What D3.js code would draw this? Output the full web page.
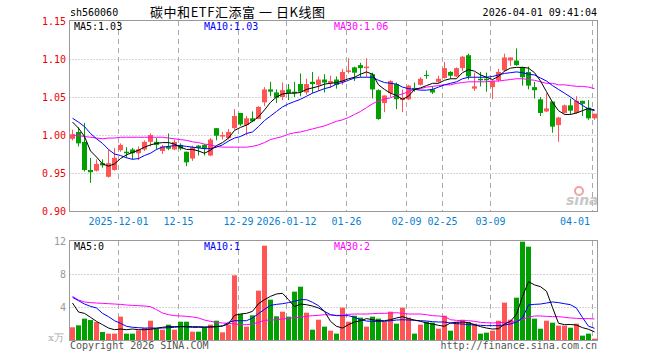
<!DOCTYPE html>
<html>
<head>
<meta charset="utf-8">
<script src="https://cdn.jsdelivr.net/npm/d3@7"></script>
<style>
  body { margin: 0; background: #fff; }
  svg text { font-family: 'DejaVu Sans Mono', monospace; font-size: 10px; }
</style>
</head>
<body>
<script>
// chart data
var dates = [
  '2025-11-19', '2025-11-20', '2025-11-21', '2025-11-24', '2025-11-25', '2025-11-26', '2025-11-27', '2025-11-28',
  '2025-12-01', '2025-12-02', '2025-12-03', '2025-12-04', '2025-12-05', '2025-12-08', '2025-12-09', '2025-12-10',
  '2025-12-11', '2025-12-12', '2025-12-15', '2025-12-16', '2025-12-17', '2025-12-18', '2025-12-19', '2025-12-22',
  '2025-12-23', '2025-12-24', '2025-12-25', '2025-12-26', '2025-12-29', '2025-12-30', '2025-12-31', '2026-01-05',
  '2026-01-06', '2026-01-07', '2026-01-08', '2026-01-09', '2026-01-12', '2026-01-13', '2026-01-14', '2026-01-15',
  '2026-01-16', '2026-01-19', '2026-01-20', '2026-01-21', '2026-01-22', '2026-01-23', '2026-01-26', '2026-01-27',
  '2026-01-28', '2026-01-29', '2026-01-30', '2026-02-02', '2026-02-03', '2026-02-04', '2026-02-05', '2026-02-06',
  '2026-02-09', '2026-02-10', '2026-02-11', '2026-02-12', '2026-02-13', '2026-02-24', '2026-02-25', '2026-02-26',
  '2026-02-27', '2026-03-02', '2026-03-03', '2026-03-04', '2026-03-05', '2026-03-06', '2026-03-09', '2026-03-10',
  '2026-03-11', '2026-03-12', '2026-03-13', '2026-03-16', '2026-03-17', '2026-03-18', '2026-03-19', '2026-03-20',
  '2026-03-23', '2026-03-24', '2026-03-25', '2026-03-26', '2026-03-27', '2026-03-30', '2026-03-31', '2026-04-01'
]

var open = [
  0.995, 1.004, 0.991, 0.954, 0.953, 0.963, 0.945, 0.954, 0.980, 0.978,
  0.981, 0.976, 0.981, 0.991, 0.991, 0.979, 0.985, 0.981, 0.987, 0.978,
  0.969, 0.986, 0.987, 0.973, 1.009, 0.998, 0.996, 1.009, 1.029, 1.013,
  1.022, 1.021, 1.043, 1.060, 1.056, 1.050, 1.060, 1.057, 1.067, 1.056,
  1.070, 1.066, 1.073, 1.068, 1.073, 1.070, 1.083, 1.089, 1.092, 1.088,
  1.080, 1.059, 1.042, 1.055, 1.067, 1.046, 1.047, 1.062, 1.066, 1.079,
  1.060, 1.070, 1.075, 1.083, 1.077, 1.088, 1.105, 1.061, 1.074, 1.074,
  1.063, 1.072, 1.085, 1.098, 1.098, 1.089, 1.083, 1.063, 1.047, 1.031,
  1.044, 1.013, 1.029, 1.039, 1.029, 1.045, 1.036, 1.022
]
var high = [
  1.007, 1.010, 1.016, 0.970, 0.968, 0.968, 0.981, 0.983, 0.989, 0.984,
  0.983, 0.985, 0.993, 1.002, 0.996, 0.987, 1.002, 0.994, 0.989, 0.978,
  0.986, 0.987, 0.988, 0.996, 1.009, 1.004, 1.008, 1.034, 1.029, 1.025,
  1.031, 1.038, 1.063, 1.070, 1.060, 1.069, 1.067, 1.070, 1.081, 1.074,
  1.083, 1.077, 1.080, 1.078, 1.077, 1.087, 1.101, 1.090, 1.095, 1.101,
  1.082, 1.060, 1.052, 1.072, 1.069, 1.060, 1.066, 1.069, 1.076, 1.085,
  1.064, 1.078, 1.096, 1.084, 1.089, 1.104, 1.107, 1.082, 1.083, 1.082,
  1.072, 1.087, 1.107, 1.102, 1.114, 1.090, 1.090, 1.070, 1.050, 1.055,
  1.044, 1.024, 1.040, 1.048, 1.051, 1.045, 1.046, 1.028
]
var low = [
  0.993, 0.985, 0.952, 0.937, 0.952, 0.957, 0.944, 0.953, 0.978, 0.970,
  0.968, 0.967, 0.979, 0.985, 0.981, 0.975, 0.980, 0.980, 0.980, 0.959,
  0.966, 0.973, 0.973, 0.972, 0.993, 0.994, 0.994, 1.007, 1.012, 1.000,
  1.017, 1.021, 1.038, 1.051, 1.042, 1.046, 1.046, 1.050, 1.051, 1.053,
  1.055, 1.058, 1.056, 1.062, 1.061, 1.066, 1.081, 1.071, 1.076, 1.076,
  1.048, 1.020, 1.030, 1.050, 1.034, 1.030, 1.046, 1.057, 1.065, 1.074,
  1.054, 1.068, 1.074, 1.074, 1.076, 1.084, 1.073, 1.058, 1.064, 1.057,
  1.047, 1.070, 1.083, 1.091, 1.091, 1.065, 1.060, 1.048, 1.025, 1.030,
  1.003, 0.991, 1.028, 1.027, 1.028, 1.025, 1.020, 1.020
]
var close = [
  1.001, 0.989, 0.954, 0.951, 0.962, 0.960, 0.963, 0.970, 0.987, 0.976,
  0.976, 0.981, 0.991, 1.000, 0.987, 0.985, 0.982, 0.991, 0.982, 0.964,
  0.984, 0.983, 0.982, 0.994, 0.999, 1.000, 1.004, 1.025, 1.014, 1.022,
  1.018, 1.037, 1.060, 1.057, 1.049, 1.059, 1.055, 1.055, 1.057, 1.067,
  1.067, 1.073, 1.069, 1.071, 1.066, 1.083, 1.085, 1.082, 1.088, 1.090,
  1.060, 1.021, 1.052, 1.071, 1.047, 1.049, 1.065, 1.060, 1.074, 1.078,
  1.056, 1.074, 1.088, 1.078, 1.088, 1.103, 1.077, 1.064, 1.072, 1.072,
  1.071, 1.083, 1.102, 1.102, 1.092, 1.076, 1.065, 1.059, 1.029, 1.035,
  1.011, 1.023, 1.039, 1.032, 1.045, 1.041, 1.022, 1.028
]

// price moving averages as drawn in the picture
var ma5 = [
  1.017, 1.009, 0.998, 0.979, 0.971, 0.962, 0.959, 0.962, 0.969, 0.974,
  0.977, 0.980, 0.984, 0.987, 0.989, 0.990, 0.990, 0.988, 0.984, 0.981,
  0.981, 0.979, 0.976, 0.980, 0.986, 0.990, 0.996, 1.006, 1.010, 1.013,
  1.018, 1.024, 1.033, 1.043, 1.050, 1.054, 1.055, 1.055, 1.056, 1.060,
  1.062, 1.064, 1.067, 1.068, 1.069, 1.071, 1.074, 1.076, 1.080, 1.083,
  1.080, 1.066, 1.060, 1.055, 1.052, 1.047, 1.051, 1.060, 1.062, 1.065,
  1.068, 1.068, 1.072, 1.074, 1.074, 1.082, 1.086, 1.084, 1.079, 1.076,
  1.073, 1.077, 1.084, 1.088, 1.089, 1.089, 1.088, 1.082, 1.071, 1.057,
  1.043, 1.032, 1.027, 1.027, 1.029, 1.032, 1.035, 1.033
]
var ma10 = [
  1.022, 1.017, 1.011, 1.002, 0.995, 0.989, 0.981, 0.975, 0.973, 0.970,
  0.968, 0.969, 0.973, 0.976, 0.981, 0.984, 0.985, 0.986, 0.986, 0.985,
  0.984, 0.983, 0.982, 0.982, 0.984, 0.987, 0.992, 0.996, 0.998, 1.002,
  1.004, 1.011, 1.019, 1.025, 1.031, 1.037, 1.041, 1.044, 1.047, 1.051,
  1.055, 1.058, 1.061, 1.063, 1.067, 1.069, 1.072, 1.075, 1.076, 1.076,
  1.076, 1.072, 1.069, 1.068, 1.067, 1.063, 1.061, 1.060, 1.059, 1.059,
  1.060, 1.063, 1.066, 1.068, 1.070, 1.074, 1.076, 1.076, 1.076, 1.076,
  1.077, 1.079, 1.081, 1.082, 1.083, 1.082, 1.080, 1.079, 1.075, 1.071,
  1.065, 1.060, 1.055, 1.050, 1.044, 1.039, 1.034, 1.032
]
var ma30 = [
  1.000, 0.999, 0.998, 0.997, 0.996, 0.995, 0.996, 0.996, 0.997, 0.997,
  0.997, 0.997, 0.997, 0.997, 0.997, 0.997, 0.996, 0.995, 0.994, 0.993,
  0.991, 0.990, 0.988, 0.987, 0.985, 0.984, 0.984, 0.984, 0.984, 0.984,
  0.985, 0.987, 0.990, 0.994, 0.996, 0.998, 1.001, 1.003, 1.004, 1.006,
  1.008, 1.010, 1.012, 1.015, 1.018, 1.020, 1.023, 1.027, 1.031, 1.036,
  1.041, 1.045, 1.047, 1.049, 1.052, 1.054, 1.057, 1.060, 1.061, 1.063,
  1.064, 1.065, 1.066, 1.066, 1.068, 1.069, 1.070, 1.070, 1.070, 1.070,
  1.071, 1.071, 1.072, 1.073, 1.074, 1.074, 1.073, 1.072, 1.070, 1.068,
  1.068, 1.066, 1.066, 1.065, 1.064, 1.064, 1.063, 1.061
]

// volume (x万) and its moving averages
var volume = [
  1.54, 1.78, 2.59, 2.42, 2.18, 0.97, 0.77, 0.77, 2.83, 0.77,
  0.77, 1.17, 1.45, 2.34, 1.37, 1.25, 1.86, 1.25, 2.22, 2.22,
  1.01, 1.01, 1.54, 1.86, 2.34, 0.93, 1.86, 7.84, 3.15, 1.62,
  2.99, 5.98, 11.43, 4.89, 2.87, 3.43, 2.83, 5.86, 6.46, 3.31,
  1.25, 2.46, 1.62, 1.13, 0.77, 3.92, 2.22, 2.95, 2.71, 1.62,
  2.83, 2.59, 2.18, 3.43, 1.98, 3.92, 2.71, 0.77, 1.86, 2.22,
  2.10, 1.37, 2.95, 1.13, 2.22, 2.46, 2.18, 1.98, 0.77, 0.89,
  1.13, 2.34, 4.53, 2.46, 5.13, 11.92, 11.31, 2.59, 1.37, 2.34,
  2.10, 1.74, 1.74, 1.49, 1.98, 0.53, 0.77, 0.16
]
var volMa5 = [
  4.48, 3.39, 3.23, 2.75, 2.26, 1.86, 1.45, 1.25, 1.33, 1.25,
  1.33, 1.25, 1.25, 1.29, 1.41, 1.54, 1.62, 1.62, 1.62, 1.58,
  1.54, 1.54, 1.54, 1.58, 1.62, 1.70, 1.94, 2.99, 3.15, 3.23,
  3.47, 4.40, 4.89, 5.29, 5.58, 5.66, 4.89, 4.04, 4.36, 4.28,
  4.12, 3.88, 3.47, 2.26, 1.66, 1.45, 1.86, 2.18, 2.34, 2.59,
  2.46, 2.34, 2.34, 2.46, 2.67, 2.83, 2.59, 2.42, 2.26, 2.06,
  1.94, 1.78, 1.66, 2.06, 2.14, 2.18, 2.10, 1.86, 1.62, 1.45,
  1.33, 1.37, 1.93, 2.27, 3.12, 5.28, 7.07, 6.68, 6.46, 5.91,
  3.94, 2.03, 1.86, 1.88, 1.81, 1.50, 1.30, 0.99
]
var volMa10 = [
  5.17, 4.77, 4.36, 4.08, 3.88, 3.23, 2.83, 2.34, 2.02, 1.66,
  1.54, 1.49, 1.45, 1.45, 1.45, 1.45, 1.49, 1.54, 1.62, 1.66,
  1.62, 1.62, 1.58, 1.58, 1.62, 1.70, 2.14, 2.34, 2.34, 2.34,
  2.67, 3.19, 3.72, 4.20, 4.32, 4.40, 4.53, 4.69, 4.89, 4.89,
  4.57, 4.16, 3.47, 3.07, 2.95, 2.95, 2.95, 2.75, 2.46, 2.30,
  2.26, 2.26, 2.26, 2.34, 2.42, 2.46, 2.42, 2.38, 2.34, 2.30,
  2.22, 2.18, 2.18, 2.06, 1.98, 1.94, 1.86, 1.82, 1.78, 1.74,
  1.74, 1.74, 1.82, 1.94, 2.18, 2.67, 4.25, 4.32, 4.36, 4.48,
  4.61, 4.53, 4.40, 4.28, 3.86, 2.72, 1.67, 1.42
]
var volMa30 = [
  5.29, 4.85, 4.61, 4.53, 4.48, 4.44, 4.40, 4.36, 4.32, 4.24,
  4.20, 4.16, 4.12, 4.04, 3.68, 3.27, 3.07, 2.95, 2.91, 2.87,
  2.79, 2.67, 2.42, 2.26, 2.14, 2.06, 2.02, 1.94, 1.86, 1.86,
  1.94, 2.14, 2.38, 2.42, 2.46, 2.55, 2.63, 2.71, 2.75, 2.87,
  2.95, 2.99, 3.07, 3.03, 2.99, 2.99, 3.11, 3.15, 3.15, 3.15,
  3.19, 3.23, 3.23, 3.27, 3.31, 3.23, 3.15, 3.15, 3.15, 3.07,
  2.95, 2.91, 2.83, 2.46, 2.38, 2.34, 2.34, 2.26, 2.14, 2.10,
  2.06, 2.10, 2.14, 2.18, 2.26, 2.50, 2.75, 2.91, 2.91, 2.87,
  2.83, 2.83, 2.75, 2.67, 2.63, 2.59, 2.59, 2.55
]

var tickDates = ['2025-12-01', '2025-12-15', '2025-12-29', '2026-01-12', '2026-01-26', '2026-02-09', '2026-02-25', '2026-03-09', '2026-04-01']
var tickLabels = ['2025-12-01', '12-15', '12-29', '2026-01-12', '01-26', '02-09', '02-25', '03-09', '04-01']
var priceTicks = [0.90, 0.95, 1.00, 1.05, 1.10, 1.15]
var volTicks = [4, 8, 12]

// layout
var w = 660
var h = 360
var left = 69.5
var right = 597.5
var red = '#ff5555'
var green = '#00a000'
var gridColor = '#aaaaaa'

var svg = d3.select('body')
  .append('svg')
  .attr('width', w)
  .attr('height', h)

var xScale = d3.scaleBand()
  .domain(dates)
  .range([left, right])
  .paddingInner(1 / 6)
  .paddingOuter(1 / 12)

var yScale = d3.scaleLinear().domain([0.90, 1.15]).range([211, 21])
var vScale = d3.scaleLinear().domain([0, 12]).range([340, 241])

// centre of a candle, snapped to a pixel column
var cx = function (d) { return Math.floor(xScale(d) + xScale.bandwidth() / 2) + 0.5 }
var isUp = function (i) { return close[i] >= open[i] }

// header
svg.append('text').attr('x', 70).attr('y', 16).attr('fill', '#000').text('sh560060')
svg.append('text').attr('x', 150).attr('y', 17)
  .style('font-family', "'Noto Sans CJK SC', sans-serif")
  .style('font-size', '13px')
  .attr('textLength', 175)
  .attr('lengthAdjust', 'spacing')
  .attr('fill', '#000')
  .text('碳中和ETF汇添富 一 日K线图')
svg.append('text').attr('x', 597).attr('y', 16).attr('text-anchor', 'end').attr('fill', '#000')
  .text('2026-04-01 09:41:04')

// panels: dotted horizontal grid
svg.selectAll('line.pgrid')
  .data(priceTicks.filter(function (t) { return t > 0.9 && t < 1.15 }))
  .enter().append('line')
  .attr('class', 'pgrid')
  .attr('x1', left).attr('x2', right)
  .attr('y1', function (d) { return Math.round(yScale(d)) + 0.5 })
  .attr('y2', function (d) { return Math.round(yScale(d)) + 0.5 })
  .attr('stroke', gridColor).attr('stroke-dasharray', '1,2')

svg.selectAll('line.vgrid')
  .data(volTicks.filter(function (t) { return t < 12 }))
  .enter().append('line')
  .attr('class', 'vgrid')
  .attr('x1', left).attr('x2', right)
  .attr('y1', function (d) { return Math.round(vScale(d)) + 0.5 })
  .attr('y2', function (d) { return Math.round(vScale(d)) + 0.5 })
  .attr('stroke', gridColor).attr('stroke-dasharray', '1,2')

// vertical dashed lines at date ticks (both panels)
var tickX = function (d) { return Math.round(xScale(d)) + 0.5 }
;[[21, 211], [241, 340]].forEach(function (r) {
  svg.selectAll(null)
    .data(tickDates)
    .enter().append('line')
    .attr('x1', tickX).attr('x2', tickX)
    .attr('y1', r[0]).attr('y2', r[1])
    .attr('stroke', gridColor).attr('stroke-dasharray', '5,4')
})

// sina watermark
var logo = svg.append('g').attr('transform', 'translate(566,205)')
logo.append('circle').attr('cx', 13).attr('cy', -14).attr('r', 4)
  .attr('fill', 'none').attr('stroke', '#f4a0a0').attr('stroke-width', 2)
logo.append('text').attr('x', 0).attr('y', 0)
  .style('font-family', "'DejaVu Sans', sans-serif")
  .style('font-size', '14px').style('font-weight', 'bold').style('font-style', 'italic')
  .attr('fill', '#c8c8c8').text('sina')

// candles
var idx = d3.range(dates.length)
svg.selectAll('line.wick')
  .data(idx)
  .enter().append('line')
  .attr('class', 'wick')
  .attr('x1', function (i) { return cx(dates[i]) })
  .attr('x2', function (i) { return cx(dates[i]) })
  .attr('y1', function (i) { return yScale(high[i]) })
  .attr('y2', function (i) { return yScale(low[i]) })
  .attr('stroke', function (i) { return isUp(i) ? red : green })

svg.selectAll('rect.body')
  .data(idx)
  .enter().append('rect')
  .attr('class', 'body')
  .attr('x', function (i) { return Math.round(xScale(dates[i])) })
  .attr('width', xScale.bandwidth())
  .attr('y', function (i) { return yScale(Math.max(open[i], close[i])) })
  .attr('height', function (i) { return Math.max(1, Math.abs(yScale(open[i]) - yScale(close[i]))) })
  .attr('fill', function (i) { return isUp(i) ? red : green })

// volume bars
svg.selectAll('rect.vol')
  .data(idx)
  .enter().append('rect')
  .attr('class', 'vol')
  .attr('x', function (i) { return Math.round(xScale(dates[i])) })
  .attr('width', xScale.bandwidth())
  .attr('y', function (i) { return vScale(volume[i]) })
  .attr('height', function (i) { return vScale(0) - vScale(volume[i]) })
  .attr('fill', function (i) { return isUp(i) ? red : green })

// moving average lines
var drawLine = function (values, scale, color) {
  var line = d3.line()
    .x(function (v, i) { return cx(dates[i]) })
    .y(function (v) { return scale(v) })
  svg.append('path')
    .datum(values)
    .attr('d', line)
    .attr('fill', 'none')
    .attr('stroke', color)
    .attr('stroke-width', 1)
}
drawLine(ma30, yScale, '#ff00ff')
drawLine(ma10, yScale, '#0000ff')
drawLine(ma5, yScale, '#000000')
drawLine(volMa30, vScale, '#ff00ff')
drawLine(volMa10, vScale, '#0000ff')
drawLine(volMa5, vScale, '#000000')

// frames
svg.append('rect').attr('x', left).attr('y', 20.5).attr('width', right - left).attr('height', 191)
  .attr('fill', 'none').attr('stroke', '#999')
svg.append('rect').attr('x', left).attr('y', 240.5).attr('width', right - left).attr('height', 100)
  .attr('fill', 'none').attr('stroke', '#999')

// axes labels
svg.selectAll('text.py')
  .data(priceTicks)
  .enter().append('text')
  .attr('x', 66).attr('y', function (d) { return yScale(d) + 4 })
  .attr('text-anchor', 'end').attr('fill', '#ee0000')
  .text(function (d) { return d3.format('.2f')(d) })

svg.selectAll('text.vy')
  .data(volTicks)
  .enter().append('text')
  .attr('x', 66).attr('y', function (d) { return vScale(d) + 4 })
  .attr('text-anchor', 'end').attr('fill', '#999')
  .text(function (d) { return d })
svg.append('text').attr('x', 64).attr('y', 341).attr('text-anchor', 'end').attr('fill', '#aaa')
  .style('font-family', "'DejaVu Serif', serif")
  .text('x万')

svg.selectAll('text.xl')
  .data(tickDates)
  .enter().append('text')
  .attr('x', function (d, i) { return i === tickDates.length - 1 ? 590 : tickX(d) })
  .attr('y', 225)
  .attr('text-anchor', function (d, i) { return i === tickDates.length - 1 ? 'end' : 'middle' })
  .attr('fill', '#0a7fd2')
  .text(function (d, i) { return tickLabels[i] })

// legends
var legend = function (y, items) {
  items.forEach(function (it, k) {
    svg.append('text').attr('x', 74 + 130 * k).attr('y', y).attr('fill', it[1]).text(it[0])
  })
}
legend(30, [['MA5:1.03', '#000'], ['MA10:1.03', '#0000ff'], ['MA30:1.06', '#ff00ff']])
legend(250, [['MA5:0', '#000'], ['MA10:1', '#0000ff'], ['MA30:2', '#ff00ff']])

// footer
svg.append('text').attr('x', 70).attr('y', 349).attr('fill', '#555').text('Copyright 2026 SINA.COM')
svg.append('text').attr('x', 597).attr('y', 349).attr('text-anchor', 'end').attr('fill', '#555')
  .text('http://finance.sina.com.cn')
</script>
</body>
</html>
